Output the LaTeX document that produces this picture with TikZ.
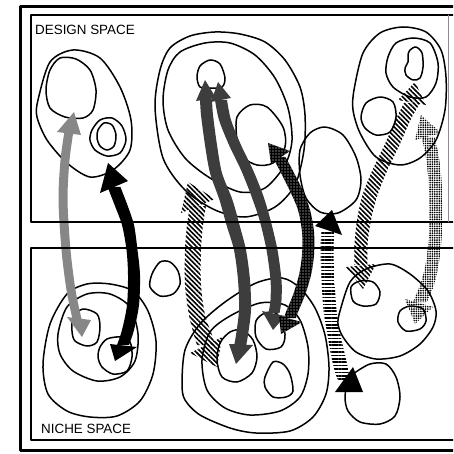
\documentclass[tikz,border=0pt]{standalone}
\usepackage{fontspec}
\setmainfont{Liberation Sans}
\usetikzlibrary{patterns.meta}

\begin{document}
\begin{tikzpicture}[x=1pt, y=-1pt, line cap=round, line join=round,
    frame/.style={line width=2.6pt, line cap=butt},
    blob/.style={line width=1.5pt},
    lbl/.style={font=\fontsize{13.4}{15}\selectfont, inner sep=0pt, anchor=base west},
    greyarr/.style={fill=black!47},
    blackarr/.style={fill=black},
    hatcharr/.style={pattern={Lines[angle=-45, distance=3.4pt, line width=1.6pt]}},
    darkarr/.style={fill=black!76},
    speckarr/.style={fill=black, postaction={pattern={Dots[distance=3pt, radius=0.6pt]}, pattern color=white}},
    stripearr/.style={pattern={Lines[angle=0, distance=3.4pt, line width=1.7pt]}},
    dotarr/.style={pattern={Dots[distance=2.3pt, radius=0.95pt]}}]
  \clip (0,0) rectangle (453,454);
  % ================= design space blobs =================
  % left group
  \draw[blob] plot[smooth cycle] coordinates {(38,100) (50,62) (73,50) (100,58) (120,87) (131,120)
      (130,150) (113,170) (90,177) (67,163) (47,140) (37,117)};
  \draw[blob] plot[smooth cycle] coordinates {(50,70) (60,58) (76,59) (90,70) (96,90) (93,110)
      (83,118) (65,117) (50,108) (46,90)};
  \draw[blob] plot[smooth cycle] coordinates {(92,130) (100,120) (112,118) (122,126) (126,140)
      (120,153) (107,156) (95,150) (90,140)};
  \draw[blob] plot[smooth cycle] coordinates {(98,130) (104,123) (112,125) (116,135) (114,146)
      (107,150) (100,146) (97,138)};
  % middle group
  \draw[blob] plot[smooth cycle] coordinates {(155,107) (160,70) (170,48) (190,36) (215,32) (240,34)
      (265,42) (285,60) (300,87) (305,115) (304,150) (295,185) (275,207) (245,217) (215,210)
      (185,190) (163,158)};
  \draw[blob] plot[smooth cycle] coordinates {(163,100) (168,70) (180,52) (205,43) (230,43) (255,55)
      (275,78) (288,108) (292,140) (285,165) (265,188) (240,192) (210,178) (185,158) (168,130)};
  \draw[blob] plot[smooth cycle] coordinates {(197,77) (200,66) (210,60) (220,64) (225,78)
      (222,87) (210,88) (200,87)};
  \draw[blob] plot[smooth cycle] coordinates {(237,117) (250,105) (267,107) (283,127) (285,147)
      (273,163) (257,165) (243,157) (237,140)};
  \draw[blob] plot[smooth cycle] coordinates {(300,150) (310,133) (325,127) (343,135) (356,157)
      (361,180) (356,200) (338,213) (320,212) (306,198) (300,175)};
  % right group
  \draw[blob] plot[smooth cycle] coordinates {(354,90) (363,53) (380,33) (403,27) (426,32) (441,50)
      (446,77) (445,110) (436,140) (420,158) (400,165) (376,157) (360,133) (353,110)};
  \draw[blob] plot[smooth cycle] coordinates {(386,73) (388,57) (396,43) (413,38) (430,43) (438,63)
      (436,83) (426,97) (410,97) (393,87)};
  \draw[blob] plot[smooth cycle] coordinates {(410,50) (416,47) (422,53) (423,67) (420,78) (413,80)
      (406,75) (405,68) (408,62) (408,55)};
  \draw[blob] plot[smooth cycle] coordinates {(366,103) (380,97) (393,102) (396,117) (390,132)
      (376,135) (365,128) (361,117)};
  % ================= niche space blobs =================
  % left group
  \draw[blob] plot[smooth cycle] coordinates {(43,364) (50,324) (67,294) (87,284) (110,284) (133,291)
      (148,311) (156,341) (153,374) (140,401) (117,416) (90,417) (67,411) (48,394)};
  \draw[blob] plot[smooth cycle] coordinates {(58,334) (67,307) (87,294) (110,294) (130,307)
      (138,334) (135,361) (120,377) (97,381) (73,371) (60,354)};
  \draw[blob] plot[smooth cycle] coordinates {(73,317) (83,309) (97,314) (100,327) (97,342)
      (87,346) (75,341) (72,331)};
  \draw[blob] plot[smooth cycle] coordinates {(100,347) (107,339) (120,337) (130,342) (132,357)
      (127,371) (113,374) (102,367) (98,357)};
  \draw[blob] plot[smooth cycle] coordinates {(152,274) (160,262) (170,262) (178,271) (180,284)
      (173,294) (160,296) (150,287)};
  % middle group
  \draw[blob] plot[smooth cycle] coordinates {(182,384) (185,350) (200,324) (225,302) (256,283)
      (282,278) (300,288) (315,308) (325,335) (329,367) (326,394) (313,417) (290,431) (256,433)
      (230,428) (200,415) (185,400)};
  \draw[blob] plot[smooth cycle] coordinates {(202,360) (210,332) (230,316) (260,303) (285,305)
      (300,320) (308,347) (308,374) (300,397) (280,411) (250,415) (225,408) (207,390)};
  \draw[blob] plot[smooth cycle] coordinates {(217,360) (220,343) (230,332) (242,330) (253,340)
      (257,357) (252,373) (237,382) (222,377)};
  \draw[blob] plot[smooth cycle] coordinates {(256,321) (265,313) (277,314) (285,334) (281,347)
      (266,349) (256,337)};
  \draw[blob] plot[smooth cycle] coordinates {(265,377) (273,362) (283,364) (290,374) (293,391)
      (286,397) (273,397) (265,387)};
  % right group
  \draw[blob] plot[smooth cycle] coordinates {(338,324) (340,311) (350,282) (366,269) (390,264)
      (410,274) (428,291) (436,311) (433,327) (420,344) (400,356) (376,359) (356,352) (343,337)};
  \draw[blob] plot[smooth cycle] coordinates {(351,287) (360,281) (373,282) (380,292) (376,304)
      (363,306) (353,301)};
  \draw[blob] plot[smooth cycle] coordinates {(400,311) (410,306) (423,309) (426,321) (420,329)
      (406,331) (398,322)};
  \draw[blob] plot[smooth cycle] coordinates {(345,397) (348,380) (353,374) (370,364) (386,364)
      (396,377) (400,397) (395,416) (380,424) (360,422) (348,411)};
  % ================= mapping arrows =================
  % grey, left
  \fill[greyarr] plot[smooth] coordinates {(64.5,131) (60.5,160) (58.5,200) (61.5,250) (66.5,290) (72.5,319)}
      -- plot[smooth] coordinates {(81.5,319) (75.5,290) (70.5,250) (67.5,200) (69.5,160) (73.5,131)} -- cycle;
  \fill[greyarr] (74,112) -- (57,132) -- (81,135) -- cycle;
  \fill[greyarr] (82,337) -- (67,317) -- (91,320) -- cycle;
  % black, left
  \fill[blackarr] plot[smooth] coordinates {(107.6,187) (114.6,205) (122,225) (126.5,250) (128,275) (127,305) (122,330) (117,345)}
      -- plot[smooth] coordinates {(129,345) (134,330) (139,305) (140,275) (137.5,250) (134,225) (127.4,205) (120.4,187)} -- cycle;
  \fill[blackarr] (108,163) -- (100,193) -- (128,181) -- cycle;
  \fill[blackarr] (115,361) -- (110,344) -- (137,347) -- cycle;
  % hatched, middle
  \fill[hatcharr] plot[smooth] coordinates {(190,206) (187,225) (185,250) (185,285) (189,315) (194,335) (197,345)}
      -- plot[smooth] coordinates {(215,345) (212,335) (205,315) (201,285) (201,250) (203,225) (206,206)} -- cycle;
  \fill[hatcharr] (188,182) -- (181,213) -- (215,199) -- cycle;
  \fill[hatcharr] (217,367) -- (190,353) -- (222,337) -- cycle;
  % dark, middle
  \fill[darkarr] plot[smooth] coordinates {(200,99) (201,115) (205,145) (210,173) (219.5,200) (226.5,225) (234,250) (238,280) (239,310) (236,335) (234,346)}
      -- plot[smooth] coordinates {(246,346) (248,335) (251,310) (250,280) (246,250) (239.5,225) (232.5,200) (222,173) (217,145) (213,115) (212,99)} -- cycle;
  \fill[darkarr] (205,80) -- (196,101) -- (216,98) -- cycle;
  \fill[darkarr] (236,364) -- (229,344) -- (253,345) -- cycle;
  \fill[darkarr] plot[smooth] coordinates {(215,100) (219,120) (229,145) (241,170) (251,195) (259.5,220) (266.5,250) (270.5,280) (270.5,300) (268.5,313)}
      -- plot[smooth] coordinates {(279.5,313) (281.5,300) (281.5,280) (277.5,250) (270.5,220) (263,195) (253,170) (241,145) (231,120) (227,100)} -- cycle;
  \fill[darkarr] (218,82) -- (211,102) -- (231,98) -- cycle;
  \fill[darkarr] (273,330) -- (262,311) -- (285,316) -- cycle;
  % speckled, middle
  \fill[speckarr] plot[smooth] coordinates {(272.5,157) (279.5,170) (289.5,190) (298,210) (302,232) (302,255) (299,275) (293,295) (286,312) (284,318)}
      -- plot[smooth] coordinates {(296,318) (298,312) (305,295) (311,275) (314,255) (314,232) (310,210) (302.5,190) (292.5,170) (285.5,157)} -- cycle;
  \fill[speckarr] (268,143) -- (271,164) -- (290,151) -- cycle;
  \fill[speckarr] (281,334) -- (279,316) -- (302,322) -- cycle;
  % striped, centre right
  \fill[stripearr] plot[smooth] coordinates {(321.5,230) (320.5,250) (321.5,280) (323.5,310) (327.5,335) (331,355) (335,372) (338,380)}
      -- plot[smooth] coordinates {(352,380) (349,372) (345,355) (340.5,335) (336.5,310) (334.5,280) (333.5,250) (334.5,230)} -- cycle;
  \fill[blackarr] (332,210) -- (315,226) -- (342,235) -- cycle;
  \fill[blackarr] (353,367) -- (335,392) -- (363,392) -- cycle;
  % hatched, right
  \fill[hatcharr] plot[smooth] coordinates {(404,103) (395.5,120) (384.5,145) (372.5,170) (362.5,195) (357,220) (354.5,245) (354.5,265)}
      -- plot[smooth] coordinates {(367.5,265) (367.5,245) (371,220) (377.5,195) (387.5,170) (399.5,145) (410.5,120) (420,103)} -- cycle;
  \fill[hatcharr] (415,82) -- (398,100) -- (426,105) -- cycle;
  \fill[hatcharr] (363,289) -- (346,267) -- (376,264) -- cycle;
  % dotted, right
  \fill[dotarr] plot[smooth] coordinates {(421.5,137) (425.5,155) (428.5,180) (429.5,210) (428.5,240) (425.5,265) (420,285) (413,302)}
      -- plot[smooth] coordinates {(427,302) (434,285) (438.5,265) (441.5,240) (442.5,210) (441.5,180) (438.5,155) (434.5,137)} -- cycle;
  \fill[dotarr] (421,115) -- (415,140) -- (441,133) -- cycle;
  \fill[dotarr] (415,324) -- (405,299) -- (433,307) -- cycle;
  % ================= frames and labels =================
  \draw[frame, line width=3pt] (20.5,6.5) rectangle (470,450.5);
  \draw[frame] (31,15) rectangle (470,222);
  \draw[black!45, line width=0.7pt] (448,15) -- (448,222);
  \draw[frame] (31,248) rectangle (470,440);
  \node[lbl] (design) at (35,35) {DESIGN SPACE};
  \node[lbl] (niche) at (41,433) {NICHE SPACE};
\end{tikzpicture}
\end{document}
